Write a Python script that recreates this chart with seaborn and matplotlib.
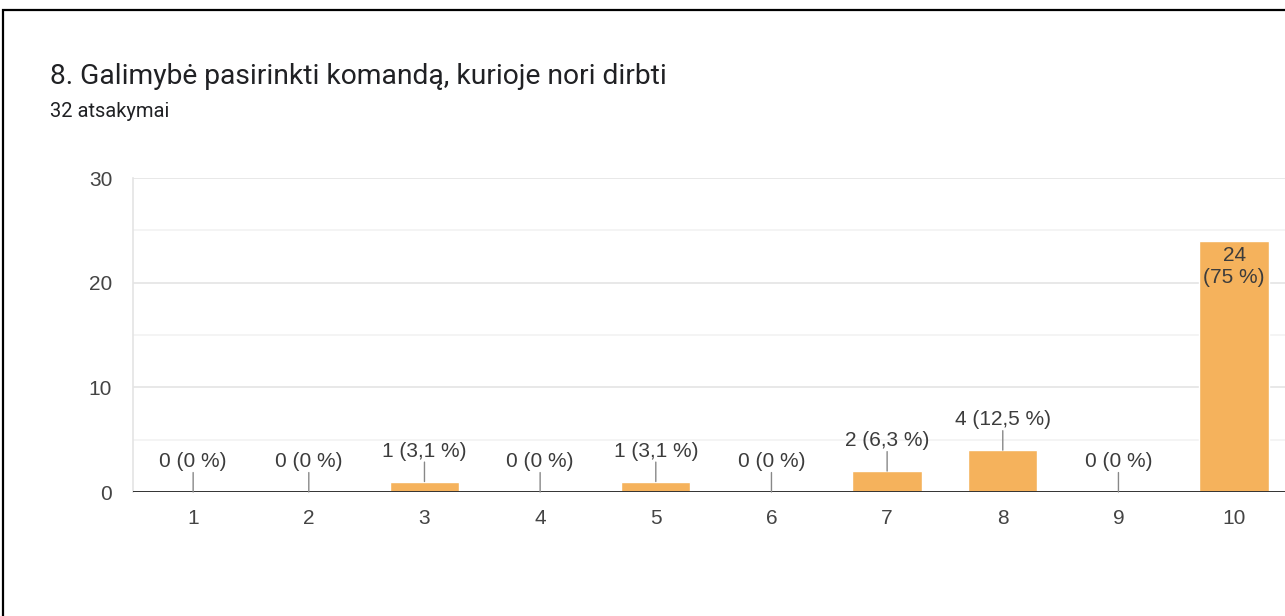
import matplotlib
matplotlib.use("Agg")
import matplotlib.pyplot as plt
import seaborn as sns
import pandas as pd
from matplotlib.patches import Rectangle

# Duomenys
kategorijos = ["1", "2", "3", "4", "5", "6", "7", "8", "9", "10"]
atsakymai = [0, 0, 1, 0, 1, 0, 2, 4, 0, 24]
procentai = ["0", "0", "3,1", "0", "3,1", "0", "6,3", "12,5", "0", "75"]
pavadinimas = "8. Galimybė pasirinkti komandą, kurioje nori dirbti"
paantraste = "32 atsakymai"

sns.set_style("white")
plt.rcParams["font.family"] = ["Liberation Sans", "DejaVu Sans"]

df = pd.DataFrame({"kategorija": kategorijos, "kiekis": atsakymai})

fig = plt.figure(figsize=(12.85, 6.16), dpi=100)
ax = fig.add_axes([133 / 1285, 1 - 492 / 616, 1 - 133 / 1285, (492 - 178) / 616])

sns.barplot(data=df, x="kategorija", y="kiekis", order=kategorijos,
            color="#F5B25C", width=0.6, saturation=1, ax=ax, zorder=3)

ax.set_xlim(-0.52, 9.44)
ax.set_ylim(0, 30)
ax.set_yticks([0, 10, 20, 30])
ax.set_yticks([5, 15, 25], minor=True)
ax.grid(axis="y", which="major", color="#e4e4e4", lw=1.2, zorder=0)
ax.grid(axis="y", which="minor", color="#f2f2f2", lw=1.2, zorder=0)
ax.tick_params(axis="both", which="both", length=0, labelsize=15, colors="#444444")
ax.tick_params(axis="x", pad=12)
ax.tick_params(axis="y", pad=15)
ax.set_xlabel("")
ax.set_ylabel("")
for s in ["top", "right", "bottom"]:
    ax.spines[s].set_visible(False)
ax.spines["left"].set_color("#e4e4e4")
ax.spines["left"].set_linewidth(1.2)
ax.axhline(0, color="#333333", lw=1.4, zorder=4)

# Reikšmių etiketės
for i, (v, p) in enumerate(zip(atsakymai, procentai)):
    if v >= 20:
        ax.text(i, v - 0.5, f"{v}\n({p} %)", ha="center", va="top",
                fontsize=15, color="#3c3c3c", zorder=5, linespacing=1.2)
    else:
        ax.annotate("", xy=(i, v), xytext=(0, 14), textcoords="offset points",
                    arrowprops=dict(arrowstyle="-", color="#888888", lw=1,
                                    shrinkA=0, shrinkB=0), zorder=5)
        ax.annotate(f"{v} ({p} %)", xy=(i, v), xytext=(0, 15),
                    textcoords="offset points", ha="center", va="bottom",
                    fontsize=15, color="#3c3c3c", zorder=5)

fig.text(50 / 1285, 1 - 84 / 616, pavadinimas, fontsize=20.3, color="#202124",
         family=["Roboto", "DejaVu Sans"], va="baseline")
fig.text(50 / 1285, 1 - 117 / 616, paantraste, fontsize=14.5, color="#202124",
         family=["Roboto", "DejaVu Sans"], va="baseline")

# Rėmelis
fig.add_artist(Rectangle((3 / 1285, -0.1), 1.2, 1.1 - 10 / 616,
                         transform=fig.transFigure, fill=False,
                         edgecolor="black", lw=1.6, clip_on=False))

fig.savefig("out.png", dpi=100)
